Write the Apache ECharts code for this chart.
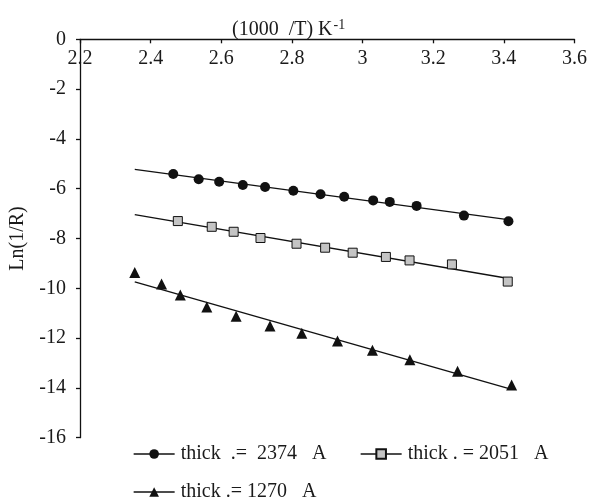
<!DOCTYPE html>
<html>
<head>
<meta charset="utf-8">
<script src="https://cdn.jsdelivr.net/npm/echarts@6/dist/echarts.min.js"></script>
<style>
html,body{margin:0;padding:0;background:#fff;}
#chart{width:590px;height:497px;}
</style>
</head>
<body>
<div id="chart"></div>
<script>
// ---- data ----
const seriesNames = ['thick  .=  2374   A', 'thick . = 2051   A', 'thick .= 1270   A'];

const circleX = [2.464, 2.536, 2.594, 2.661, 2.724, 2.804, 2.881, 2.948, 3.030, 3.077, 3.153, 3.287, 3.413];
const circleY = [-5.41, -5.62, -5.72, -5.85, -5.93, -6.08, -6.22, -6.32, -6.47, -6.53, -6.69, -7.08, -7.31];

const squareX = [2.477, 2.573, 2.635, 2.711, 2.813, 2.894, 2.972, 3.066, 3.133, 3.253, 3.411];
const squareY = [-7.30, -7.53, -7.73, -7.98, -8.21, -8.37, -8.57, -8.74, -8.88, -9.04, -9.73];

const triX = [2.355, 2.431, 2.484, 2.559, 2.642, 2.738, 2.828, 2.929, 3.028, 3.134, 3.269, 3.422];
const triY = [-9.37, -9.83, -10.27, -10.75, -11.12, -11.51, -11.81, -12.12, -12.49, -12.87, -13.33, -13.88];

const xAxisRange = [2.2, 3.6];
const xStep = 0.2;
const yAxisRange = [-16, 0];
const yStep = 2;
const xTitle = '(1000  /T) K';
const xTitleSup = '-1';
const yTitle = 'Ln(1/R)';

// ---- helpers ----
function pairs(xs, ys) { return xs.map((x, i) => [x, ys[i]]); }
const allX = circleX.concat(squareX, triX);
const fitStart = Math.min.apply(null, allX);
const fitEnd = Math.max.apply(null, allX);
function fit(xs, ys) {
  const n = xs.length;
  let sx = 0, sy = 0, sxx = 0, sxy = 0;
  for (let i = 0; i < n; i++) { sx += xs[i]; sy += ys[i]; sxx += xs[i] * xs[i]; sxy += xs[i] * ys[i]; }
  const b = (n * sxy - sx * sy) / (n * sxx - sx * sx);
  const a = (sy - b * sx) / n;
  return [[fitStart, a + b * fitStart], [fitEnd, a + b * fitEnd]];
}

const FONT = "'Liberation Serif', 'Times New Roman', serif";
const TXT = '#1a1a1a';
const INK = '#111';
const FS = 20;

const chart = echarts.init(document.getElementById('chart'), null, {renderer: 'canvas'});

function dataSeries(name, data, symbol, size, fill) {
  return {
    type: 'line', name: name, data: data, symbol: symbol, symbolSize: size,
    showSymbol: true,
    lineStyle: {width: 0, opacity: 0},
    itemStyle: {color: fill, borderColor: INK, borderWidth: fill === INK ? 0 : 1, opacity: 1},
    emphasis: {disabled: true}, z: 3
  };
}
function fitSeries(name, data) {
  return {
    type: 'line', name: name, data: data, symbol: 'none', silent: true,
    lineStyle: {color: INK, width: 1.3}, emphasis: {disabled: true}, z: 2
  };
}
function legendAt(name, left, top) {
  return {
    data: [name], left: left, top: top, padding: 0, itemWidth: 41, itemHeight: 12, itemGap: 0,
    selectedMode: false,
    textStyle: {fontFamily: FONT, fontSize: FS, color: TXT, padding: [0, 0, 0, 1]},
    lineStyle: {color: INK, width: 1.3, opacity: 1}
  };
}

chart.setOption({
  animation: false,
  backgroundColor: '#fff',
  title: {
    text: xTitle + '{sup|' + xTitleSup + '}',
    left: 232, top: 18, padding: 0,
    textStyle: {
      fontFamily: FONT, fontSize: FS, fontWeight: 'normal', color: TXT,
      rich: {sup: {fontFamily: FONT, fontSize: 14, color: TXT, verticalAlign: 'top', padding: [0, 0, 10, 1]}}
    }
  },
  grid: {left: 78.7, top: 39.3, right: 9, bottom: 59.3, containLabel: false},
  xAxis: {
    type: 'value', position: 'top', min: xAxisRange[0], max: xAxisRange[1], interval: xStep,
    axisLine: {show: true, onZero: false, lineStyle: {color: INK, width: 1.3}},
    axisTick: {show: true, inside: true, length: 4, lineStyle: {color: INK, width: 1.3}},
    axisLabel: {inside: true, margin: 9, fontFamily: FONT, fontSize: FS, color: TXT},
    splitLine: {show: false}
  },
  yAxis: {
    type: 'value', min: yAxisRange[0], max: yAxisRange[1], interval: yStep,
    name: yTitle, nameLocation: 'middle', nameRotate: 90, nameGap: 52,
    nameTextStyle: {fontFamily: FONT, fontSize: FS, color: TXT},
    axisLine: {show: true, onZero: false, lineStyle: {color: INK, width: 1.3}},
    axisTick: {show: true, length: 4, lineStyle: {color: INK, width: 1.3}},
    axisLabel: {margin: 14, fontFamily: FONT, fontSize: FS, color: TXT},
    splitLine: {show: false}
  },
  legend: [
    legendAt(seriesNames[0], 133, 444),
    legendAt(seriesNames[1], 360, 444),
    legendAt(seriesNames[2], 133, 482)
  ],
  series: [
    fitSeries('fit1', fit(circleX, circleY)),
    fitSeries('fit2', fit(squareX, squareY)),
    fitSeries('fit3', fit(triX, triY)),
    dataSeries(seriesNames[0], pairs(circleX, circleY), 'circle', 10, INK),
    dataSeries(seriesNames[1], pairs(squareX, squareY), 'rect', 9, '#c4c4c4'),
    dataSeries(seriesNames[2], pairs(triX, triY), 'triangle', 11, INK)
  ]
});
</script>
</body>
</html>
